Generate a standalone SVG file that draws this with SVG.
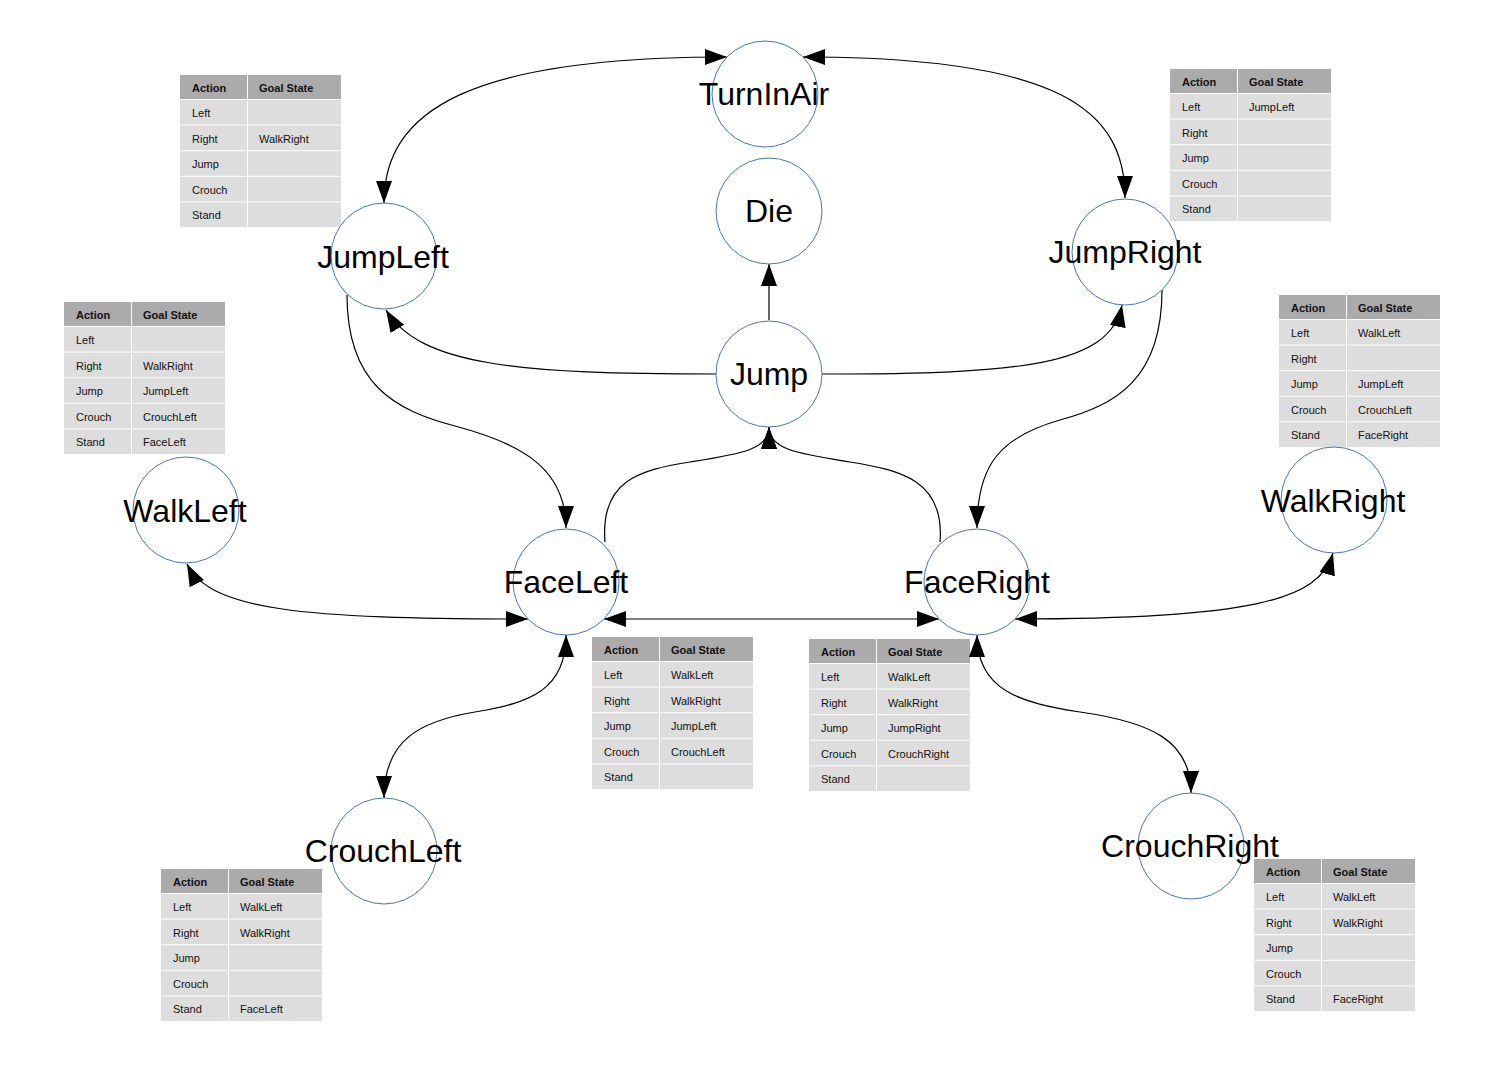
<svg xmlns="http://www.w3.org/2000/svg" xmlns:xlink="http://www.w3.org/1999/xlink" width="1508" height="1067" viewBox="0 0 1508 1067">
<style>
.hd{fill:#ababab}
.rw{fill:#dddddd}
.th{font-family:"Liberation Sans",Arial,sans-serif;font-size:11px;font-weight:bold;fill:#111}
.td{font-family:"Liberation Sans",Arial,sans-serif;font-size:11px;fill:#111}
.node circle{fill:#fff;stroke:#4a76ad;stroke-width:1}
.node text{font-family:"Liberation Sans",Arial,sans-serif;font-size:32px;fill:#000;text-anchor:middle}
.edge{fill:none;stroke:#000;stroke-width:1.2}
</style>
<defs>
<marker id="ah" viewBox="0 0 22 16" refX="22" refY="8" markerWidth="22" markerHeight="16" orient="auto-start-reverse" markerUnits="userSpaceOnUse">
<path d="M0,0 L22,8 L0,16 z" fill="#000"/>
</marker>
<g id="grid">
<rect class="hd" x="0" y="0" width="67" height="24"/>
<rect class="hd" x="68" y="0" width="93" height="24"/>
<rect class="rw" x="0" y="25" width="67" height="24.6"/>
<rect class="rw" x="68" y="25" width="93" height="24.6"/>
<rect class="rw" x="0" y="50.6" width="67" height="24.6"/>
<rect class="rw" x="68" y="50.6" width="93" height="24.6"/>
<rect class="rw" x="0" y="76.2" width="67" height="24.6"/>
<rect class="rw" x="68" y="76.2" width="93" height="24.6"/>
<rect class="rw" x="0" y="101.8" width="67" height="24.6"/>
<rect class="rw" x="68" y="101.8" width="93" height="24.6"/>
<rect class="rw" x="0" y="127.4" width="67" height="24.6"/>
<rect class="rw" x="68" y="127.4" width="93" height="24.6"/>
</g>
</defs>
<rect width="1508" height="1067" fill="#fff"/>

<g id="tables">
<g id="table-jumpleft" transform="translate(180,75)">
<use xlink:href="#grid"/>
<text class="th" x="12" y="17">Action</text><text class="th" x="79" y="17">Goal State</text>
<text class="td" x="12" y="42">Left</text>
<text class="td" x="12" y="67.6">Right</text><text class="td" x="79" y="67.6">WalkRight</text>
<text class="td" x="12" y="93.2">Jump</text>
<text class="td" x="12" y="118.8">Crouch</text>
<text class="td" x="12" y="144.4">Stand</text>
</g>
<g id="table-jumpright" transform="translate(1170,69)">
<use xlink:href="#grid"/>
<text class="th" x="12" y="17">Action</text><text class="th" x="79" y="17">Goal State</text>
<text class="td" x="12" y="42">Left</text><text class="td" x="79" y="42">JumpLeft</text>
<text class="td" x="12" y="67.6">Right</text>
<text class="td" x="12" y="93.2">Jump</text>
<text class="td" x="12" y="118.8">Crouch</text>
<text class="td" x="12" y="144.4">Stand</text>
</g>
<g id="table-walkleft" transform="translate(64,302)">
<use xlink:href="#grid"/>
<text class="th" x="12" y="17">Action</text><text class="th" x="79" y="17">Goal State</text>
<text class="td" x="12" y="42">Left</text>
<text class="td" x="12" y="67.6">Right</text><text class="td" x="79" y="67.6">WalkRight</text>
<text class="td" x="12" y="93.2">Jump</text><text class="td" x="79" y="93.2">JumpLeft</text>
<text class="td" x="12" y="118.8">Crouch</text><text class="td" x="79" y="118.8">CrouchLeft</text>
<text class="td" x="12" y="144.4">Stand</text><text class="td" x="79" y="144.4">FaceLeft</text>
</g>
<g id="table-walkright" transform="translate(1279,295)">
<use xlink:href="#grid"/>
<text class="th" x="12" y="17">Action</text><text class="th" x="79" y="17">Goal State</text>
<text class="td" x="12" y="42">Left</text><text class="td" x="79" y="42">WalkLeft</text>
<text class="td" x="12" y="67.6">Right</text>
<text class="td" x="12" y="93.2">Jump</text><text class="td" x="79" y="93.2">JumpLeft</text>
<text class="td" x="12" y="118.8">Crouch</text><text class="td" x="79" y="118.8">CrouchLeft</text>
<text class="td" x="12" y="144.4">Stand</text><text class="td" x="79" y="144.4">FaceRight</text>
</g>
<g id="table-faceleft" transform="translate(592,637)">
<use xlink:href="#grid"/>
<text class="th" x="12" y="17">Action</text><text class="th" x="79" y="17">Goal State</text>
<text class="td" x="12" y="42">Left</text><text class="td" x="79" y="42">WalkLeft</text>
<text class="td" x="12" y="67.6">Right</text><text class="td" x="79" y="67.6">WalkRight</text>
<text class="td" x="12" y="93.2">Jump</text><text class="td" x="79" y="93.2">JumpLeft</text>
<text class="td" x="12" y="118.8">Crouch</text><text class="td" x="79" y="118.8">CrouchLeft</text>
<text class="td" x="12" y="144.4">Stand</text>
</g>
<g id="table-faceright" transform="translate(809,639)">
<use xlink:href="#grid"/>
<text class="th" x="12" y="17">Action</text><text class="th" x="79" y="17">Goal State</text>
<text class="td" x="12" y="42">Left</text><text class="td" x="79" y="42">WalkLeft</text>
<text class="td" x="12" y="67.6">Right</text><text class="td" x="79" y="67.6">WalkRight</text>
<text class="td" x="12" y="93.2">Jump</text><text class="td" x="79" y="93.2">JumpRight</text>
<text class="td" x="12" y="118.8">Crouch</text><text class="td" x="79" y="118.8">CrouchRight</text>
<text class="td" x="12" y="144.4">Stand</text>
</g>
<g id="table-crouchleft" transform="translate(161,869)">
<use xlink:href="#grid"/>
<text class="th" x="12" y="17">Action</text><text class="th" x="79" y="17">Goal State</text>
<text class="td" x="12" y="42">Left</text><text class="td" x="79" y="42">WalkLeft</text>
<text class="td" x="12" y="67.6">Right</text><text class="td" x="79" y="67.6">WalkRight</text>
<text class="td" x="12" y="93.2">Jump</text>
<text class="td" x="12" y="118.8">Crouch</text>
<text class="td" x="12" y="144.4">Stand</text><text class="td" x="79" y="144.4">FaceLeft</text>
</g>
<g id="table-crouchright" transform="translate(1254,859)">
<use xlink:href="#grid"/>
<text class="th" x="12" y="17">Action</text><text class="th" x="79" y="17">Goal State</text>
<text class="td" x="12" y="42">Left</text><text class="td" x="79" y="42">WalkLeft</text>
<text class="td" x="12" y="67.6">Right</text><text class="td" x="79" y="67.6">WalkRight</text>
<text class="td" x="12" y="93.2">Jump</text>
<text class="td" x="12" y="118.8">Crouch</text>
<text class="td" x="12" y="144.4">Stand</text><text class="td" x="79" y="144.4">FaceRight</text>
</g>
</g>

<g id="connectors">
<path class="edge" d="M384,203 C384,110 470,57 727,57" marker-start="url(#ah)" marker-end="url(#ah)"/>
<path class="edge" d="M803,57 C1060,57 1125,110 1125,198" marker-start="url(#ah)" marker-end="url(#ah)"/>
<path class="edge" d="M769,320 L769,264" marker-end="url(#ah)"/>
<path class="edge" d="M716,374 C520,374 420,366 386,310" marker-end="url(#ah)"/>
<path class="edge" d="M822,374 C1020,374 1110,366 1122,305" marker-end="url(#ah)"/>
<path class="edge" d="M347,295 C347,385 395,410 455,426 C515,442 566,465 566,528" marker-end="url(#ah)"/>
<path class="edge" d="M1162,290 C1162,380 1115,405 1060,420 C1000,437 977,465 977,528" marker-end="url(#ah)"/>
<path class="edge" d="M605,542 C600,480 640,470 690,462 C740,454 769,450 769,427" marker-end="url(#ah)"/>
<path class="edge" d="M940,542 C945,480 900,470 850,462 C800,454 769,450 769,427" marker-end="url(#ah)"/>
<path class="edge" d="M604,619 L939,619" marker-start="url(#ah)" marker-end="url(#ah)"/>
<path class="edge" d="M187,564 C210,610 300,619 528,619" marker-start="url(#ah)" marker-end="url(#ah)"/>
<path class="edge" d="M1015,619 C1250,619 1320,600 1333,553" marker-start="url(#ah)" marker-end="url(#ah)"/>
<path class="edge" d="M566,635 C566,690 530,703 475,712 C420,721 384,740 384,798" marker-start="url(#ah)" marker-end="url(#ah)"/>
<path class="edge" d="M977,635 C977,690 1020,703 1080,712 C1150,722 1191,740 1191,793" marker-start="url(#ah)" marker-end="url(#ah)"/>
</g>

<g id="nodes">
<g id="TurnInAir" class="node"><circle cx="765" cy="94" r="53"/><text x="764" y="105">TurnInAir</text></g>
<g id="Die" class="node"><circle cx="769" cy="211" r="53"/><text x="769" y="222">Die</text></g>
<g id="JumpLeft" class="node"><circle cx="384" cy="256" r="53"/><text x="383" y="268">JumpLeft</text></g>
<g id="JumpRight" class="node"><circle cx="1125" cy="252" r="53"/><text x="1125" y="263">JumpRight</text></g>
<g id="Jump" class="node"><circle cx="769" cy="374" r="53"/><text x="769" y="385">Jump</text></g>
<g id="WalkLeft" class="node"><circle cx="186" cy="510" r="53"/><text x="185" y="522">WalkLeft</text></g>
<g id="WalkRight" class="node"><circle cx="1334" cy="500" r="53"/><text x="1333" y="512">WalkRight</text></g>
<g id="FaceLeft" class="node"><circle cx="566" cy="582" r="53"/><text x="566" y="593">FaceLeft</text></g>
<g id="FaceRight" class="node"><circle cx="977" cy="582" r="53"/><text x="977" y="593">FaceRight</text></g>
<g id="CrouchLeft" class="node"><circle cx="384" cy="851" r="53"/><text x="383" y="862">CrouchLeft</text></g>
<g id="CrouchRight" class="node"><circle cx="1191" cy="846" r="53"/><text x="1190" y="857">CrouchRight</text></g>
</g>
</svg>
